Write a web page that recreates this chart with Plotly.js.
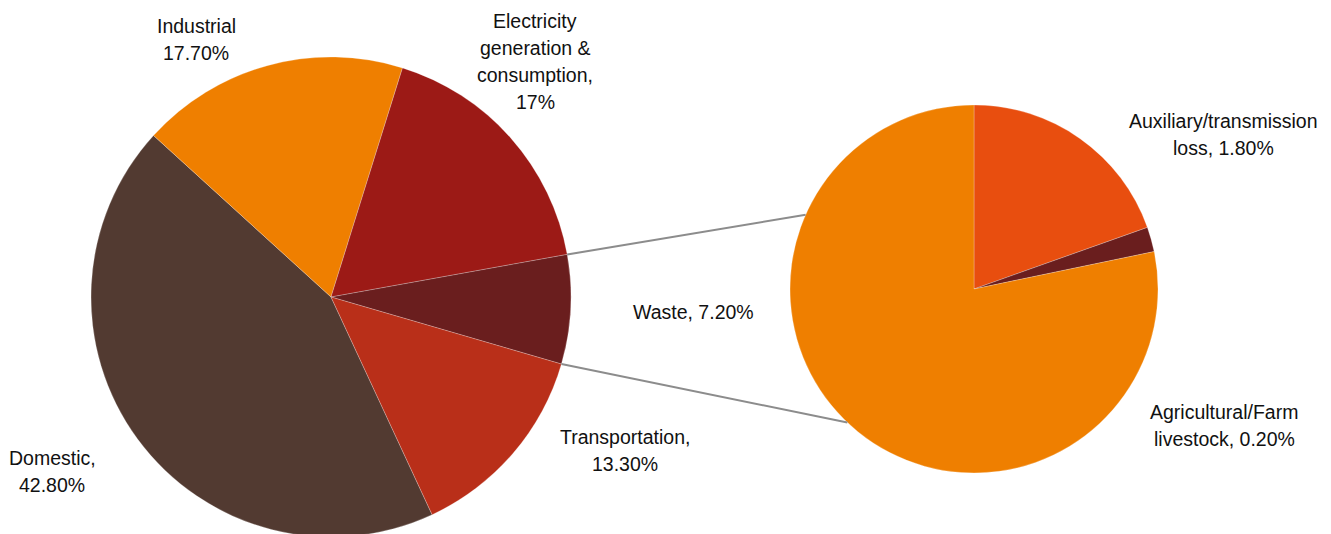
<!DOCTYPE html>
<html>
<head>
<meta charset="utf-8">
<script src="https://cdn.plot.ly/plotly-3.0.1.min.js"></script>
<style>
html,body{margin:0;padding:0;width:1331px;height:534px;overflow:hidden;background:#fff;}
#chart{width:1331px;height:540px;}
</style>
</head>
<body>
<div id="chart"></div>
<script>
// ---- data ----
const mainCategories = ['Domestic', 'Industrial', 'Electricity generation & consumption', 'Waste', 'Transportation'];
const mainValues = [42.8, 17.7, 17, 7.2, 13.3];
const mainColors = ['#523a31', '#ef7f00', '#9c1a16', '#6a1e1e', '#b92f19'];
const mainLabels = ['Domestic,<br>42.80%', 'Industrial<br>17.70%', 'Electricity<br>generation &<br>consumption,<br>17%', 'Waste, 7.20%', 'Transportation,<br>13.30%'];

const subCategories = ['Auxiliary/transmission loss', 'Agricultural/Farm livestock', 'Waste'];
const subValues = [1.8, 0.2, 7.2];
const subColors = ['#e84e0f', '#6a1e1e', '#ef7f00'];
const subLabels = ['Auxiliary/transmission<br>loss, 1.80%', 'Agricultural/Farm<br>livestock, 0.20%', ''];

// ---- geometry (pixels) ----
const W = 1331, H = 540;
const L = {cx: 331, cy: 297, r: 240};
const R = {cx: 974, cy: 289, r: 184};
const otherIndex = 3;           // Waste slice in main pie, split into second pie
const otherCenterAngle = 93;    // degrees clockwise from 12 o'clock

const total = mainValues.reduce((a, b) => a + b, 0);
let before = 0;
for (let i = 0; i < otherIndex; i++) before += mainValues[i];
const rotation = ((otherCenterAngle - (before + mainValues[otherIndex] / 2) / total * 360) % 360 + 360) % 360;
const startOther = otherCenterAngle - mainValues[otherIndex] / total * 180;
const endOther = otherCenterAngle + mainValues[otherIndex] / total * 180;

function px(x) { return x / W; }
function py(y) { return (H - y) / H; }
function pt(c, angDeg) {
  const a = angDeg * Math.PI / 180;
  return [c.cx + c.r * Math.sin(a), c.cy - c.r * Math.cos(a)];
}

const font = {family: '"Liberation Sans", Arial, sans-serif', size: 19.5, color: '#111'};

const traces = [
  {
    type: 'pie', labels: mainCategories, values: mainValues, sort: false, direction: 'clockwise',
    rotation: rotation, textinfo: 'none', hoverinfo: 'label+value',
    marker: {colors: mainColors, line: {color: 'rgba(255,255,255,0.4)', width: 0.6}},
    domain: {x: [px(L.cx - L.r), px(L.cx + L.r)], y: [py(L.cy + L.r), py(L.cy - L.r)]},
    showlegend: false
  },
  {
    type: 'pie', labels: subCategories, values: subValues, sort: false, direction: 'clockwise',
    rotation: 0, textinfo: 'none', hoverinfo: 'label+value',
    marker: {colors: subColors, line: {color: 'rgba(255,255,255,0.4)', width: 0.6}},
    domain: {x: [px(R.cx - R.r), px(R.cx + R.r)], y: [py(R.cy + R.r), py(R.cy - R.r)]},
    showlegend: false
  }
];

// label anchor positions (pixel centre of first line), line pitch 27px
const mainLabelPos = [[52, 458], [196, 26], [535, 21], [693, 312], [625, 437]];
const subLabelPos = [[1223, 121], [1224, 412], null];
const pitch = 27;
const annotations = [];
function addLabel(text, pos) {
  if (!text || !pos) return;
  text.split('<br>').forEach((line, k) => {
    annotations.push({
      xref: 'paper', yref: 'paper', x: px(pos[0]), y: py(pos[1] + k * pitch),
      xanchor: 'center', yanchor: 'middle', text: line, showarrow: false, font: font
    });
  });
}
mainLabels.forEach((t, i) => addLabel(t, mainLabelPos[i]));
subLabels.forEach((t, i) => addLabel(t, subLabelPos[i]));

// connector lines
const a1 = pt(L, startOther), a2 = pt(L, endOther);
const b1 = pt(R, 293.8), b2 = pt(R, 223.5);
const shapes = [
  {type: 'line', xref: 'paper', yref: 'paper', x0: px(a1[0]), y0: py(a1[1]), x1: px(b1[0]), y1: py(b1[1]), line: {color: '#8c8c8c', width: 2}},
  {type: 'line', xref: 'paper', yref: 'paper', x0: px(a2[0]), y0: py(a2[1]), x1: px(b2[0]), y1: py(b2[1]), line: {color: '#8c8c8c', width: 2}}
];

Plotly.newPlot('chart', traces, {
  width: W, height: H, margin: {l: 0, r: 0, t: 0, b: 0, pad: 0},
  paper_bgcolor: '#fff', plot_bgcolor: '#fff', showlegend: false,
  annotations: annotations, shapes: shapes
}, {displayModeBar: false, staticPlot: true});
</script>
</body>
</html>
